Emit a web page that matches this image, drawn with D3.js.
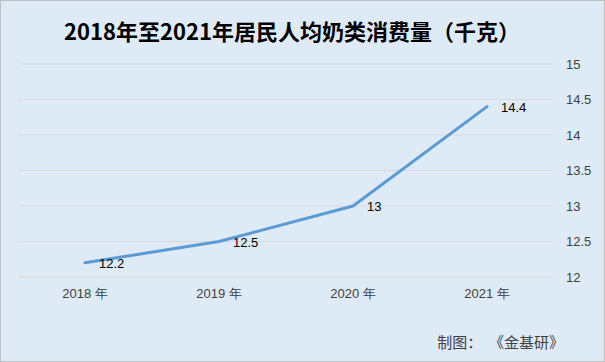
<!DOCTYPE html>
<html>
<head>
<meta charset="utf-8">
<script src="https://cdn.jsdelivr.net/npm/d3@7"></script>
<style>
  body { margin: 0; background: #fff; }
  svg { display: block; font-family: "Noto Sans CJK SC", "Liberation Sans", sans-serif; }
</style>
</head>
<body>
<svg id="chart" width="605" height="362"></svg>
<script>
// Data
const years = ['2018 年', '2019 年', '2020 年', '2021 年'];
const values = [12.2, 12.5, 13, 14.4];
const yTicks = [12, 12.5, 13, 13.5, 14, 14.5, 15];

const width = 605, height = 362;
const svg = d3.select('#chart');

// background + border
svg.append('rect')
  .attr('x', 0.5).attr('y', 0.5)
  .attr('width', width - 1).attr('height', height - 1)
  .attr('fill', '#deeaf6')
  .attr('stroke', '#bfbfbf');

// Title
svg.append('text')
  .attr('x', 292).attr('y', 40)
  .attr('text-anchor', 'middle')
  .attr('font-size', 22)
  .attr('font-weight', 'bold')
  .attr('fill', '#000')
  .text('2018年至2021年居民人均奶类消费量（千克）');

// Scales
const x = d3.scaleBand().domain(years).range([18, 554]);
const y = d3.scaleLinear().domain([12, 15]).range([277, 64]);

// Gridlines
svg.append('g')
  .selectAll('line')
  .data(yTicks)
  .enter()
  .append('line')
  .attr('x1', 18).attr('x2', 552)
  .attr('y1', d => y(d)).attr('y2', d => y(d))
  .attr('stroke', '#d9d9d9')
  .attr('stroke-width', 1);

// Right axis labels
const yAxis = d3.axisRight(y).tickValues(yTicks).tickSize(0).tickPadding(0).tickFormat(d => d);
const gy = svg.append('g')
  .attr('transform', 'translate(566,0)')
  .call(yAxis);
gy.select('.domain').remove();
gy.selectAll('text')
  .attr('font-size', 13)
  .attr('fill', '#404040')
  .attr('font-family', '"Liberation Sans", sans-serif');

// Bottom axis labels
const xAxis = d3.axisBottom(x).tickSize(0).tickPadding(0);
const gx = svg.append('g')
  .attr('transform', 'translate(0,289)')
  .call(xAxis);
gx.select('.domain').remove();
gx.selectAll('text')
  .attr('font-size', 13)
  .attr('fill', '#404040');

// Line
const line = d3.line()
  .x((d, i) => x(years[i]) + x.bandwidth() / 2)
  .y(d => y(d));

svg.append('path')
  .datum(values)
  .attr('d', line)
  .attr('fill', 'none')
  .attr('stroke', '#5b9bd5')
  .attr('stroke-width', 3)
  .attr('stroke-linejoin', 'round')
  .attr('stroke-linecap', 'round');

// Data labels
svg.append('g')
  .selectAll('text')
  .data(values)
  .enter()
  .append('text')
  .attr('x', (d, i) => x(years[i]) + x.bandwidth() / 2 + 14)
  .attr('y', d => y(d) + 5)
  .attr('font-size', 13)
  .attr('fill', '#000')
  .attr('font-family', '"Liberation Sans", sans-serif')
  .text(d => d);

// Source note
svg.append('text')
  .attr('x', 564).attr('y', 348)
  .attr('text-anchor', 'end')
  .attr('font-size', 15)
  .attr('fill', '#404040')
  .attr('xml:space', 'preserve')
  .style('white-space', 'pre')
  .text('制图：  《金基研》');
</script>
</body>
</html>
